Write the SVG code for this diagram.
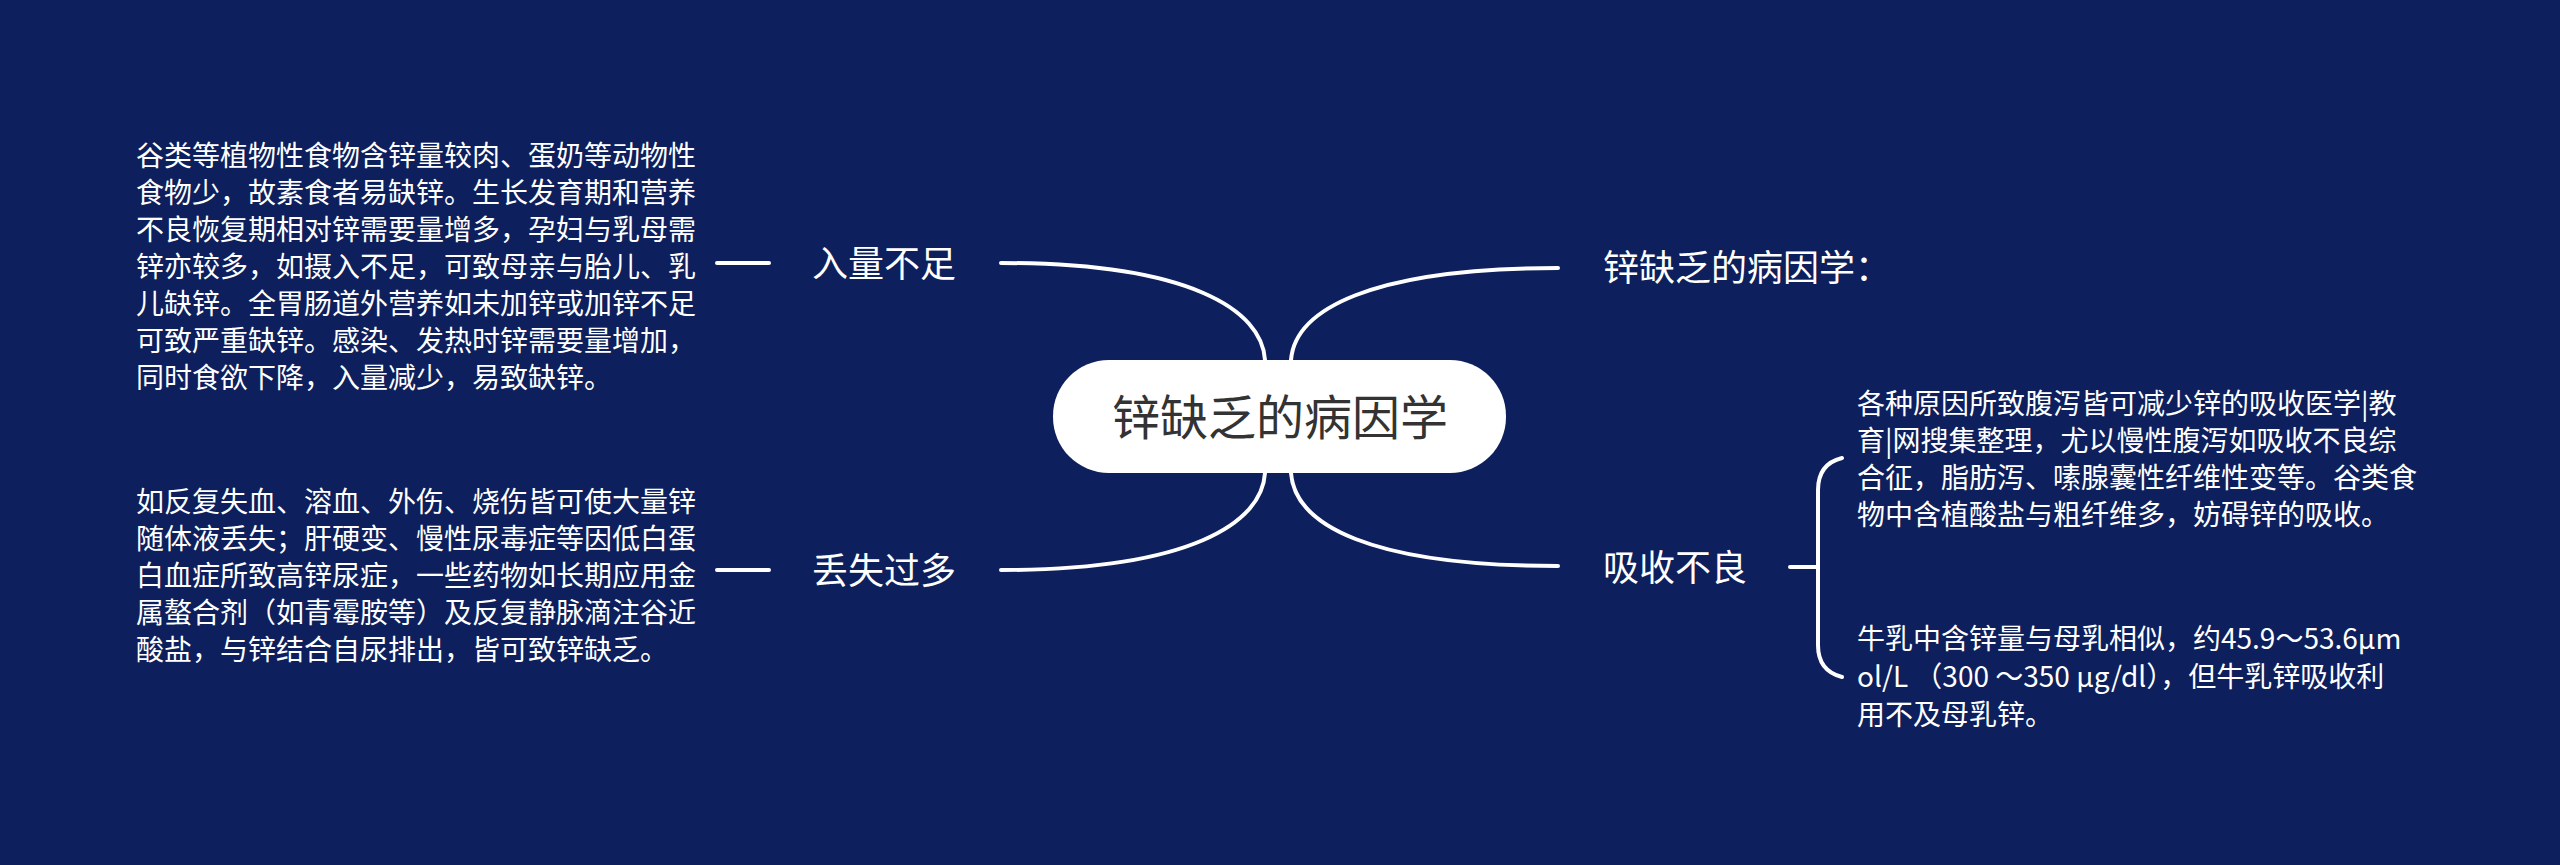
<svg xmlns="http://www.w3.org/2000/svg" width="2560" height="865" viewBox="0 0 2560 865">
<style>
.bg{fill:#0d1f5c}
.conn{fill:none;stroke:#ffffff;stroke-width:4;stroke-linecap:round}
.lbl{font-family:"Noto Sans CJK SC","Noto Sans",sans-serif;font-size:36px;fill:#ffffff}
.txt{font-family:"Noto Sans CJK SC","Noto Sans",sans-serif;font-size:28px;fill:#ffffff}
.root{font-family:"Noto Sans CJK SC","Noto Sans",sans-serif;font-size:48px;fill:#333333}
</style>
<rect class="bg" x="0" y="0" width="2560" height="865"/>
<g id="connectors">
<path class="conn" d="M1001,263 C1190,263 1262,310 1265,360"/>
<path class="conn" d="M1001,570 C1190,570 1262,523 1265,473"/>
<path class="conn" d="M1291,360 C1295,310 1370,268 1558,268"/>
<path class="conn" d="M1291,473 C1295,525 1370,566 1558,566"/>
<path class="conn" d="M717,263 L769,263"/>
<path class="conn" d="M717,570 L769,570"/>
<path class="conn" d="M1790,567 L1818,567"/>
<path class="conn" d="M1842,458 C1826,462 1818,472 1818,490 L1818,645 C1818,663 1826,673 1842,677"/>
</g>
<g id="root">
<rect x="1053" y="360" width="453" height="113" rx="56" ry="56" fill="#ffffff"/>
<text class="root" x="1280" y="435" text-anchor="middle">锌缺乏的病因学</text>
</g>
<g id="node-intake">
<text class="lbl" x="812" y="277">入量不足</text>
</g>
<g id="node-loss">
<text class="lbl" x="812" y="584">丢失过多</text>
</g>
<g id="node-title">
<text class="lbl" x="1603" y="281">锌缺乏的病因学：</text>
</g>
<g id="node-absorb">
<text class="lbl" x="1603" y="581">吸收不良</text>
</g>
<g id="detail-intake">
<text class="txt" x="136">
<tspan x="136" y="166">谷类等植物性食物含锌量较肉、蛋奶等动物性</tspan>
<tspan x="136" y="203">食物少，故素食者易缺锌。生长发育期和营养</tspan>
<tspan x="136" y="240">不良恢复期相对锌需要量增多，孕妇与乳母需</tspan>
<tspan x="136" y="277">锌亦较多，如摄入不足，可致母亲与胎儿、乳</tspan>
<tspan x="136" y="314">儿缺锌。全胃肠道外营养如未加锌或加锌不足</tspan>
<tspan x="136" y="351">可致严重缺锌。感染、发热时锌需要量增加，</tspan>
<tspan x="136" y="388">同时食欲下降，入量减少，易致缺锌。</tspan>
</text>
</g>
<g id="detail-loss">
<text class="txt" x="136">
<tspan x="136" y="512">如反复失血、溶血、外伤、烧伤皆可使大量锌</tspan>
<tspan x="136" y="549">随体液丢失；肝硬变、慢性尿毒症等因低白蛋</tspan>
<tspan x="136" y="586">白血症所致高锌尿症，一些药物如长期应用金</tspan>
<tspan x="136" y="623">属螯合剂（如青霉胺等）及反复静脉滴注谷近</tspan>
<tspan x="136" y="660">酸盐，与锌结合自尿排出，皆可致锌缺乏。</tspan>
</text>
</g>
<g id="detail-absorb-1">
<text class="txt" x="1857">
<tspan x="1857" y="414">各种原因所致腹泻皆可减少锌的吸收医学|教</tspan>
<tspan x="1857" y="451">育|网搜集整理，尤以慢性腹泻如吸收不良综</tspan>
<tspan x="1857" y="488">合征，脂肪泻、嗉腺囊性纤维性变等。谷类食</tspan>
<tspan x="1857" y="525">物中含植酸盐与粗纤维多，妨碍锌的吸收。</tspan>
</text>
</g>
<g id="detail-absorb-2">
<text class="txt" x="1857">
<tspan x="1857" y="649">牛乳中含锌量与母乳相似，约45.9～53.6μm</tspan>
<tspan x="1857" y="687">ol/L （300 ～350 μg/dl），但牛乳锌吸收利</tspan>
<tspan x="1857" y="725">用不及母乳锌。</tspan>
</text>
</g>
</svg>
